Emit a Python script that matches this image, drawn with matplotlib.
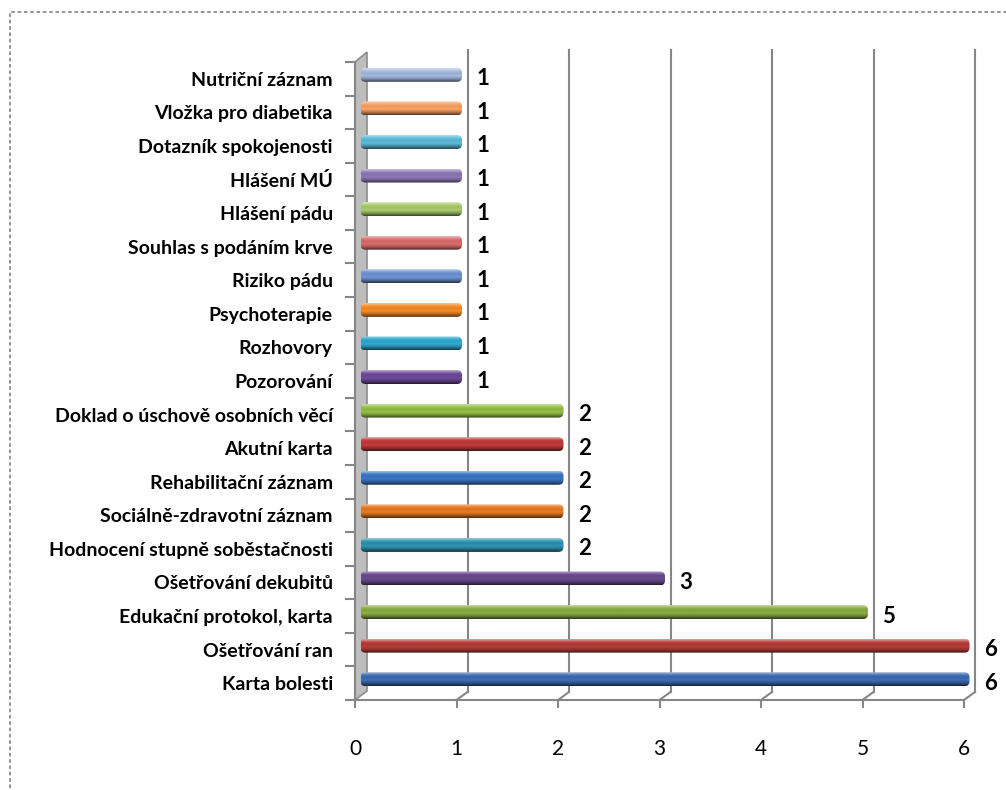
import numpy as np
import matplotlib
matplotlib.use("Agg")
import matplotlib.pyplot as plt
from matplotlib.patches import FancyBboxPatch, Polygon, Rectangle
from matplotlib.colors import to_rgb

# --- data (bottom to top, as in the chart) ---
categories = [
    "Karta bolesti", "Ošetřování ran", "Edukační protokol, karta",
    "Ošetřování dekubitů", "Hodnocení stupně soběstačnosti",
    "Sociálně-zdravotní záznam", "Rehabilitační záznam", "Akutní karta",
    "Doklad o úschově osobních věcí", "Pozorování", "Rozhovory",
    "Psychoterapie", "Riziko pádu", "Souhlas s podáním krve",
    "Hlášení pádu", "Hlášení MÚ", "Dotazník spokojenosti",
    "Vložka pro diabetika", "Nutriční záznam",
]
values = [6, 6, 5, 3, 2, 2, 2, 2, 2, 1, 1, 1, 1, 1, 1, 1, 1, 1, 1]
bar_colors = [
    "#3D6CB0", "#B53B39", "#8AAB42", "#6B4A8F", "#2E93AE", "#E57A24",
    "#3A73C4", "#C03A3A", "#94BE45", "#6E4A9A", "#2FA9CF", "#F58A25",
    "#6E93D2", "#D96D6C", "#A8CB6C", "#8D78B8", "#5CBAD6", "#F8A265",
    "#A3B8DD",
]
x_ticks = [0, 1, 2, 3, 4, 5, 6]

W, H = 1006, 790
fig = plt.figure(figsize=(W / 100, H / 100), dpi=100)
ax_l, ax_b, ax_w, ax_h = 355 / W, 90 / H, 609 / W, 638 / H
ax = fig.add_axes([ax_l, ax_b, ax_w, ax_h])

n = len(categories)
ax.set_xlim(0, 6)
ax.set_ylim(-0.5, n - 0.5)

# pixel -> data units (for the fake 3D depth)
px2x = 6 / (ax_w * W)
px2y = n / (ax_h * H)
BX, BY = 11 * px2x, 8 * px2y      # back wall offset
MX, MY = 5.5 * px2x, 4 * px2y     # bars sit in the middle of the depth
grid_c = "#868686"

# back gridlines + little diagonal to the floor
top_g = n - 0.5 + 12 * px2y - BY
for v in x_ticks[1:]:
    ax.plot([v + BX, v + BX], [-0.5 + BY, top_g + BY], color=grid_c, lw=1.5,
            clip_on=False, zorder=1)
    ax.plot([v, v + BX], [-0.5, -0.5 + BY], color=grid_c, lw=1.5,
            clip_on=False, zorder=1)

# left side wall
wall = Polygon([(0, -0.5), (0, n - 0.5), (12 * px2x, n - 0.5 + 10 * px2y),
                (12 * px2x, -0.5 + 9 * px2y)], closed=True,
               facecolor="#BDBDBD", edgecolor="#8C8C8C", lw=1.2,
               clip_on=False, zorder=2)
ax.add_patch(wall)


def shade(c, t):
    # t<0 -> lighter, t>0 -> darker
    r = np.array(to_rgb(c))
    if t < 0:
        return r + (1 - r) * (-t)
    return r * (1 - t)


profile = [-0.45, -0.3, -0.12, 0.0, 0.05, 0.05, 0.0, 0.0, 0.08, 0.18, 0.3, 0.45, 0.6]

BAR_H = 14 * px2y
R = 5 * px2x
for i, (v, c) in enumerate(zip(values, bar_colors)):
    x0, x1 = MX, v + MX
    y0 = i + MY - BAR_H / 2
    box = FancyBboxPatch((x0, y0), x1 - x0, BAR_H,
                         boxstyle=f"round,pad=0,rounding_size={R}",
                         mutation_aspect=px2y / px2x,
                         facecolor="none", edgecolor="none", zorder=3,
                         clip_on=False)
    ax.add_patch(box)
    img = np.array([shade(c, t) for t in profile]).reshape(-1, 1, 3)
    im = ax.imshow(img, extent=(x0, x1, y0, y0 + BAR_H), aspect="auto",
                   origin="upper", interpolation="bilinear", zorder=3)
    im.set_clip_box(fig.bbox)
    im.set_clip_path(box)
    ax.text(v + 20 * px2x, i, str(v), ha="left", va="center",
            fontsize=16, fontweight="bold", family="Lato", color="black",
            zorder=4)

ax.set_xlim(0, 6)
ax.set_ylim(-0.5, n - 0.5)

# axes styling
for s in ["top", "right"]:
    ax.spines[s].set_visible(False)
for s in ["left", "bottom"]:
    ax.spines[s].set_color(grid_c)
    ax.spines[s].set_linewidth(1.5)
    ax.spines[s].set_zorder(2.5)

ax.set_xticks(x_ticks)
ax.set_xticklabels([str(t) for t in x_ticks], family="Lato", fontsize=15)
ax.tick_params(axis="x", length=6, width=1.5, color=grid_c, pad=22,
               direction="out")

ax.set_yticks(range(n))
ax.set_yticklabels(categories, family="Lato", fontweight="bold", fontsize=14)
ax.set_yticks(np.arange(-0.5, n, 1), minor=True)
ax.tick_params(axis="y", which="major", length=0, pad=16)
ax.tick_params(axis="y", which="minor", length=7, width=1.5, color=grid_c,
               direction="out")

# dotted chart border
border = Rectangle((10 / W, -0.02), 1.05, 1 - 12 / H + 0.02,
                   transform=fig.transFigure, fill=False, edgecolor="#8C8C8C",
                   lw=1.3, linestyle=(0, (2, 1.5)), clip_on=False)
fig.patches.append(border)

fig.savefig("out.png", dpi=100)
